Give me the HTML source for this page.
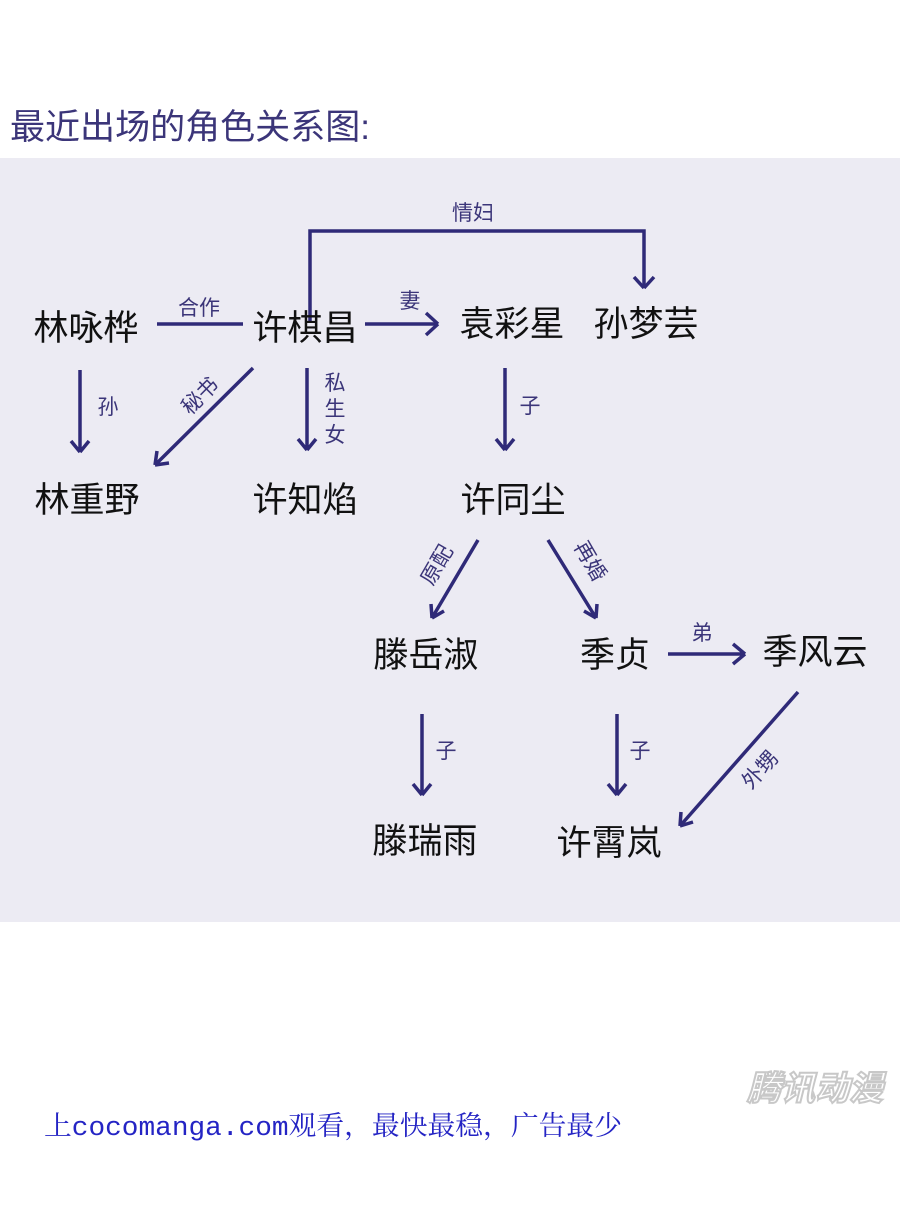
<!DOCTYPE html>
<html><head><meta charset="utf-8"><style>
html,body{margin:0;padding:0;background:#fff;}
body{width:900px;height:1216px;position:relative;overflow:hidden;}
svg{position:absolute;left:0;top:0;}
</style></head><body>
<svg width="900" height="1216" viewBox="0 0 900 1216" xmlns="http://www.w3.org/2000/svg">
<text x="10" y="139" font-family="Liberation Sans, Noto Sans CJK SC, sans-serif" font-size="35" fill="#3b3579" textLength="360" lengthAdjust="spacingAndGlyphs">最近出场的角色关系图:</text>
<rect x="0" y="158" width="900" height="764" fill="#ecebf3"/>
<g stroke="#2f2a78" stroke-width="3.5" fill="none">
<path d="M157,324 L243,324"/>
<path d="M365,324 L438,324"/>
<path d="M438,324 l-12,-11 M438,324 l-12,11"/>
<path d="M310,322 L310,231 L644,231 L644,287"/>
<path d="M644,288 l-10,-11 M644,288 l10,-11"/>
<path d="M80,370 L80,452 M80,452 l-9,-11 M80,452 l9,-11"/>
<path d="M253,368 L155,465 M155,465 l2,-14 M155,465 l14,-2"/>
<path d="M307,368 L307,450 M307,450 l-9,-11 M307,450 l9,-11"/>
<path d="M505,368 L505,450 M505,450 l-9,-11 M505,450 l9,-11"/>
<path d="M478,540 L432,618 M432,618 l-1,-14 M432,618 l12,-7"/>
<path d="M548,540 L596,618 M596,618 l-12,-7 M596,618 l1,-14"/>
<path d="M668,654 L745,654 M745,654 l-12,-10 M745,654 l-12,10"/>
<path d="M422,714 L422,795 M422,795 l-9,-11 M422,795 l9,-11"/>
<path d="M617,714 L617,795 M617,795 l-9,-11 M617,795 l9,-11"/>
<path d="M798,692 L680,826 M680,826 l1,-14 M680,826 l13,-4"/>
</g>
<g font-family="Liberation Sans, Noto Sans CJK SC, sans-serif" font-size="35" fill="#111" text-anchor="middle">
<text x="86" y="340">林咏桦</text>
<text x="305" y="340">许棋昌</text>
<text x="512" y="336">袁彩星</text>
<text x="646" y="336">孙梦芸</text>
<text x="87" y="512">林重野</text>
<text x="305" y="512">许知焰</text>
<text x="513" y="512">许同尘</text>
<text x="426" y="667">滕岳淑</text>
<text x="615" y="667">季贞</text>
<text x="815" y="664">季风云</text>
<text x="425" y="853">滕瑞雨</text>
<text x="609" y="855">许霄岚</text>
</g>
<g font-family="Liberation Sans, Noto Sans CJK SC, sans-serif" font-size="21" fill="#3b3579" text-anchor="middle">
<text x="199" y="315">合作</text>
<text x="410" y="308">妻</text>
<text x="473" y="220">情妇</text>
<text x="108" y="414">孙</text>
<text x="200" y="403" transform="rotate(-45 200 396)">秘书</text>
<text x="335" y="390">私</text>
<text x="335" y="416">生</text>
<text x="335" y="442">女</text>
<text x="530" y="413">子</text>
<text x="437" y="572" transform="rotate(-60 437 565)">原配</text>
<text x="590" y="568" transform="rotate(60 590 561)">再婚</text>
<text x="702" y="640">弟</text>
<text x="446" y="758">子</text>
<text x="640" y="758">子</text>
<text x="760" y="777" transform="rotate(-48 760 770)">外甥</text>
</g>
<text x="44" y="1135" font-family="Liberation Mono, Noto Serif CJK SC, serif" font-size="27" fill="#2424c4" textLength="578" lengthAdjust="spacingAndGlyphs">上cocomanga.com观看，最快最稳，广告最少</text>
<text x="815" y="1100" text-anchor="middle" font-family="Liberation Sans, Noto Sans CJK SC, sans-serif" font-size="34" font-weight="bold" font-style="italic" fill="#fff" stroke="#c8c8c8" stroke-width="2">腾讯动漫</text>
</svg>
</body></html>
